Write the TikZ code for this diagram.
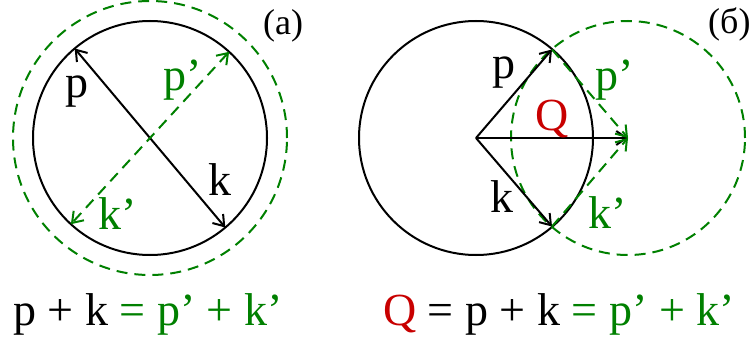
\documentclass[tikz,border=0pt]{standalone}
\usepackage{fontspec}
\setmainfont{Liberation Serif}
\usetikzlibrary{arrows.meta}
\definecolor{dgreen}{RGB}{0,128,0}
\definecolor{dred}{RGB}{200,0,0}
\begin{document}
\begin{tikzpicture}[x=1pt,y=-1pt,
  lbl/.style={anchor=base west,inner sep=0pt,font=\fontsize{46}{50}\selectfont},
  tagl/.style={anchor=base west,inner sep=0pt,font=\fontsize{36}{40}\selectfont},
  blk/.style={line width=2pt,black},
  grn/.style={line width=2pt,dgreen,dash pattern=on 11pt off 7pt},
  arr/.style={-{Straight Barb[length=10pt,width=14pt]}},
  darr/.style={{Straight Barb[length=10pt,width=14pt]}-{Straight Barb[length=10pt,width=14pt]}}
]
\useasboundingbox (0,0) rectangle (755,345);
% ---------- (a) ----------
\coordinate (C1) at (150,138);
\coordinate (P1) at (74.7,48.5);
\coordinate (K1) at (225.3,227.5);
\coordinate (Pp1) at (229.1,51.8);
\coordinate (Kp1) at (70.9,224.2);
\draw[blk] (C1) circle[radius=117pt];
\draw[grn] (C1) circle[radius=137pt];
\draw[blk,darr] (P1) -- (K1);
\draw[grn,darr] (Pp1) -- (Kp1);
\node[lbl] (lp1) at (65,97) {p};
\node[lbl,text=dgreen] (lpp1) at (163,90) {p’};
\node[lbl] (lk1) at (208,195) {k};
\node[lbl,text=dgreen] (lkp1) at (98,229) {k’};
\node[tagl] (ta) at (263,35) {(a)};
% ---------- (б) ----------
\coordinate (O) at (476,138);
\coordinate (P2) at (552,49.5);
\coordinate (K2) at (552,226.5);
\coordinate (Q) at (628,138);
\draw[blk] (O) circle[radius=117pt];
\draw[grn] (Q) circle[radius=117pt];
\draw[blk,arr] (O) -- (P2);
\draw[blk,arr] (O) -- (K2);
\draw[blk,arr] (O) -- (Q);
\draw[grn,arr] (P2) -- (Q);
\draw[grn,arr] (K2) -- (Q);
\node[lbl] (lp2) at (492,78) {p};
\node[lbl,text=dred] (lQ) at (535,130) {Q};
\node[lbl,text=dgreen] (lpp2) at (595,90) {p’};
\node[lbl] (lk2) at (490,212) {k};
\node[lbl,text=dgreen] (lkp2) at (588,228) {k’};
\node[tagl] (tb) at (708,34) {(б)};
% ---------- equations ----------
\node[lbl] (eq1) at (13,325) {p + k \textcolor{dgreen}{= p’ + k’}};
\node[lbl] (eq2) at (383,325) {\textcolor{dred}{Q} = p + k \textcolor{dgreen}{= p’ + k’}};
\end{tikzpicture}
\end{document}
